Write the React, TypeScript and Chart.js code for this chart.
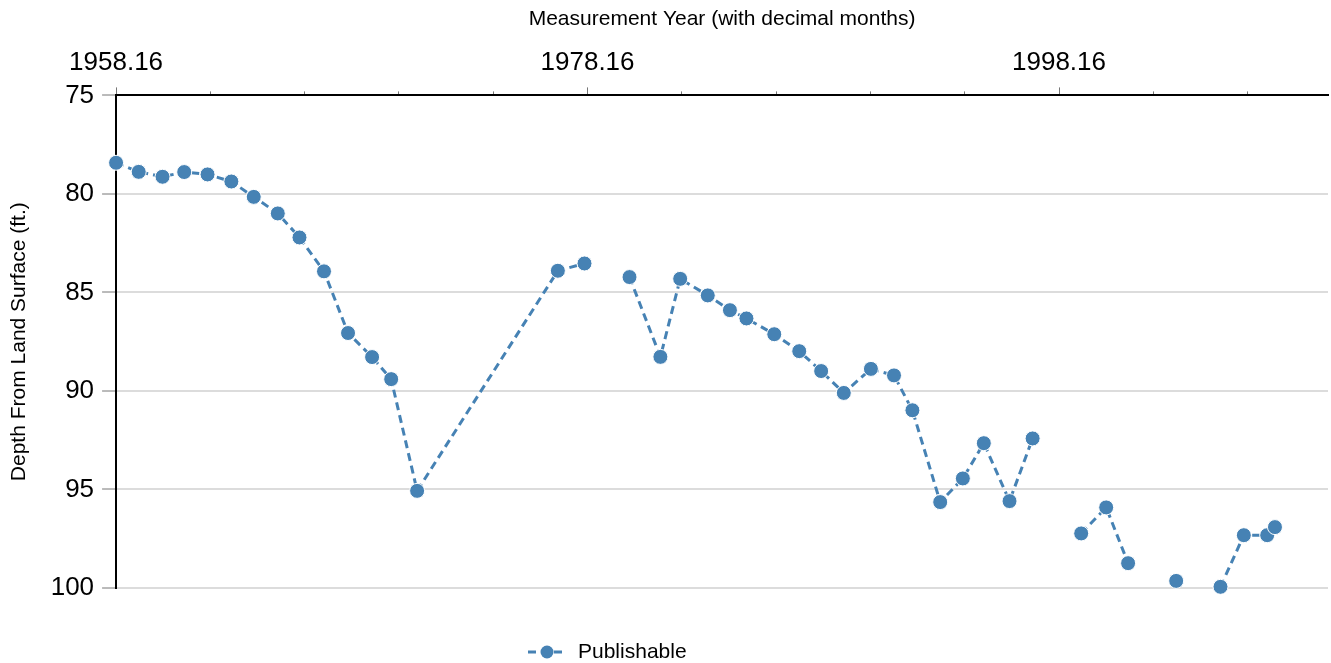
import React, { useEffect, useRef } from "react";
import { Chart, registerables } from "chart.js";

Chart.register(...registerables);

// ---- Data ----
const measurementYears: number[] = [
  1958.16, 1959.12, 1960.13, 1961.05, 1962.04, 1963.05, 1964.0, 1965.02, 1965.94, 1966.98,
  1968.0, 1969.02, 1969.83, 1970.93, 1976.9, 1978.03, 1979.0, 1979.94, 1981.25, 1982.09,
  1983.26, 1984.2, 1984.9, 1986.08, 1987.14, 1988.07, 1989.03, 1990.18, 1991.16, 1991.94,
  1993.12, 1994.08, 1994.97, 1996.06, 1997.04, 1998.0, 1999.1, 2000.16, 2001.09, 2002.1,
  2003.13, 2004.1, 2005.01, 2006.0, 2006.99, 2007.32,
];

const depthValues: (number | null)[] = [
  78.42, 78.88, 79.13, 78.89, 79.01, 79.37, 80.15, 80.99, 82.21, 83.93,
  87.06, 88.28, 89.4, 95.07, 83.9, 83.53, null, 84.22, 88.27, 84.31,
  85.15, 85.9, 86.32, 87.12, 87.98, 88.99, 90.1, 88.88, 89.21, 90.98,
  95.64, 94.44, 92.65, 95.59, 92.41, null, 97.23, 95.91, 98.74, null,
  99.64, null, 99.94, 97.32, 97.32, 96.91,
];

const xTickValues: number[] = [
  1958.16, 1962.16, 1966.16, 1970.16, 1974.16, 1978.16, 1982.16, 1986.16, 1990.16,
  1994.16, 1998.16, 2002.16, 2006.16,
];
const xMajorLabels: string[] = ["1958.16", "1978.16", "1998.16"];

const yTickValues: number[] = [75, 80, 85, 90, 95, 100];

const seriesLabel = "Publishable";
const xTitle = "Measurement Year (with decimal months)";
const yTitle = "Depth From Land Surface (ft.)";

const X_MIN = 1958.16;
const X_MAX = 2009.57;

const BLUE = "#4682B4";
const FONT = "'Liberation Sans', Arial, sans-serif";

const isMajor = (v: number) => xMajorLabels.includes(v.toFixed(2));

const legendPlugin = {
  id: "customLegend",
  afterDraw(chart: any) {
    const ctx = chart.ctx as CanvasRenderingContext2D;
    const y = chart.height - 11;
    const x0 = 528;
    ctx.save();
    ctx.strokeStyle = BLUE;
    ctx.lineWidth = 3;
    ctx.setLineDash([8, 5]);
    ctx.beginPath();
    ctx.moveTo(x0, y);
    ctx.lineTo(x0 + 38, y);
    ctx.stroke();
    ctx.setLineDash([]);
    ctx.fillStyle = BLUE;
    ctx.beginPath();
    ctx.arc(x0 + 19, y, 6.5, 0, Math.PI * 2);
    ctx.fill();
    ctx.fillStyle = "#000";
    ctx.font = `21px ${FONT}`;
    ctx.textBaseline = "middle";
    ctx.textAlign = "left";
    ctx.fillText(seriesLabel, x0 + 50, y);
    ctx.restore();
  },
};

export default function App() {
  const canvasRef = useRef<HTMLCanvasElement | null>(null);

  useEffect(() => {
    document.body.style.margin = "0";
    const canvas = canvasRef.current;
    if (!canvas) return;
    Chart.defaults.font.family = FONT;
    const chart = new Chart(canvas, {
      type: "line",
      data: {
        datasets: [
          {
            label: seriesLabel,
            data: measurementYears.map((x, i) => ({ x, y: depthValues[i] })) as any,
            borderColor: BLUE,
            backgroundColor: BLUE,
            borderWidth: 3,
            borderDash: [8, 5],
            pointRadius: 7.5,
            pointBackgroundColor: BLUE,
            pointBorderColor: "#ffffff",
            pointBorderWidth: 1,
            spanGaps: false,
            tension: 0,
            clip: false,
          } as any,
        ],
      },
      options: {
        responsive: false,
        animation: false,
        layout: { autoPadding: false, padding: { top: 7, left: 7, right: 3, bottom: 75 } } as any,
        plugins: {
          legend: { display: false },
          tooltip: { enabled: false },
        },
        scales: {
          x: {
            type: "linear",
            position: "top",
            min: X_MIN,
            max: X_MAX,
            afterBuildTicks: (scale: any) => {
              scale.ticks = xTickValues.map((v) => ({ value: v }));
            },
            ticks: {
              autoSkip: false,
              maxRotation: 0,
              padding: 8.5,
              color: "#000",
              font: { size: 26 },
              callback: (value: any) => {
                const s = Number(value).toFixed(2);
                return xMajorLabels.includes(s) ? s : "";
              },
            },
            grid: {
              drawOnChartArea: false,
              drawTicks: true,
              tickLength: 8,
              tickColor: "#777",
              tickWidth: 1,
              tickBorderDash: (ctx: any) =>
                ctx.tick && isMajor(ctx.tick.value) ? [] : [0, 4, 20, 0],
            } as any,
            border: { display: true, color: "#000", width: 2 },
            title: {
              display: true,
              text: xTitle,
              color: "#000",
              font: { size: 21 },
              padding: { top: 0, bottom: 7 },
            },
          },
          y: {
            type: "linear",
            reverse: true,
            min: 75,
            max: 100,
            afterBuildTicks: (scale: any) => {
              scale.ticks = yTickValues.map((v) => ({ value: v }));
            },
            ticks: {
              padding: 8,
              color: "#000",
              font: { size: 26 },
            },
            grid: {
              color: "#dcdcdc",
              lineWidth: 2,
              tickLength: 14,
              tickColor: "#777",
              tickWidth: 1,
            },
            border: { display: true, color: "#000", width: 2 },
            title: {
              display: true,
              text: yTitle,
              color: "#000",
              font: { size: 21 },
              padding: { top: 0, bottom: 10.5 },
            },
          },
        },
      },
      plugins: [legendPlugin],
    });
    return () => chart.destroy();
  }, []);

  return (
    <div style={{ width: 1331, height: 663 }}>
      <canvas ref={canvasRef} width={1331} height={663} style={{ display: "block" }} />
    </div>
  );
}
